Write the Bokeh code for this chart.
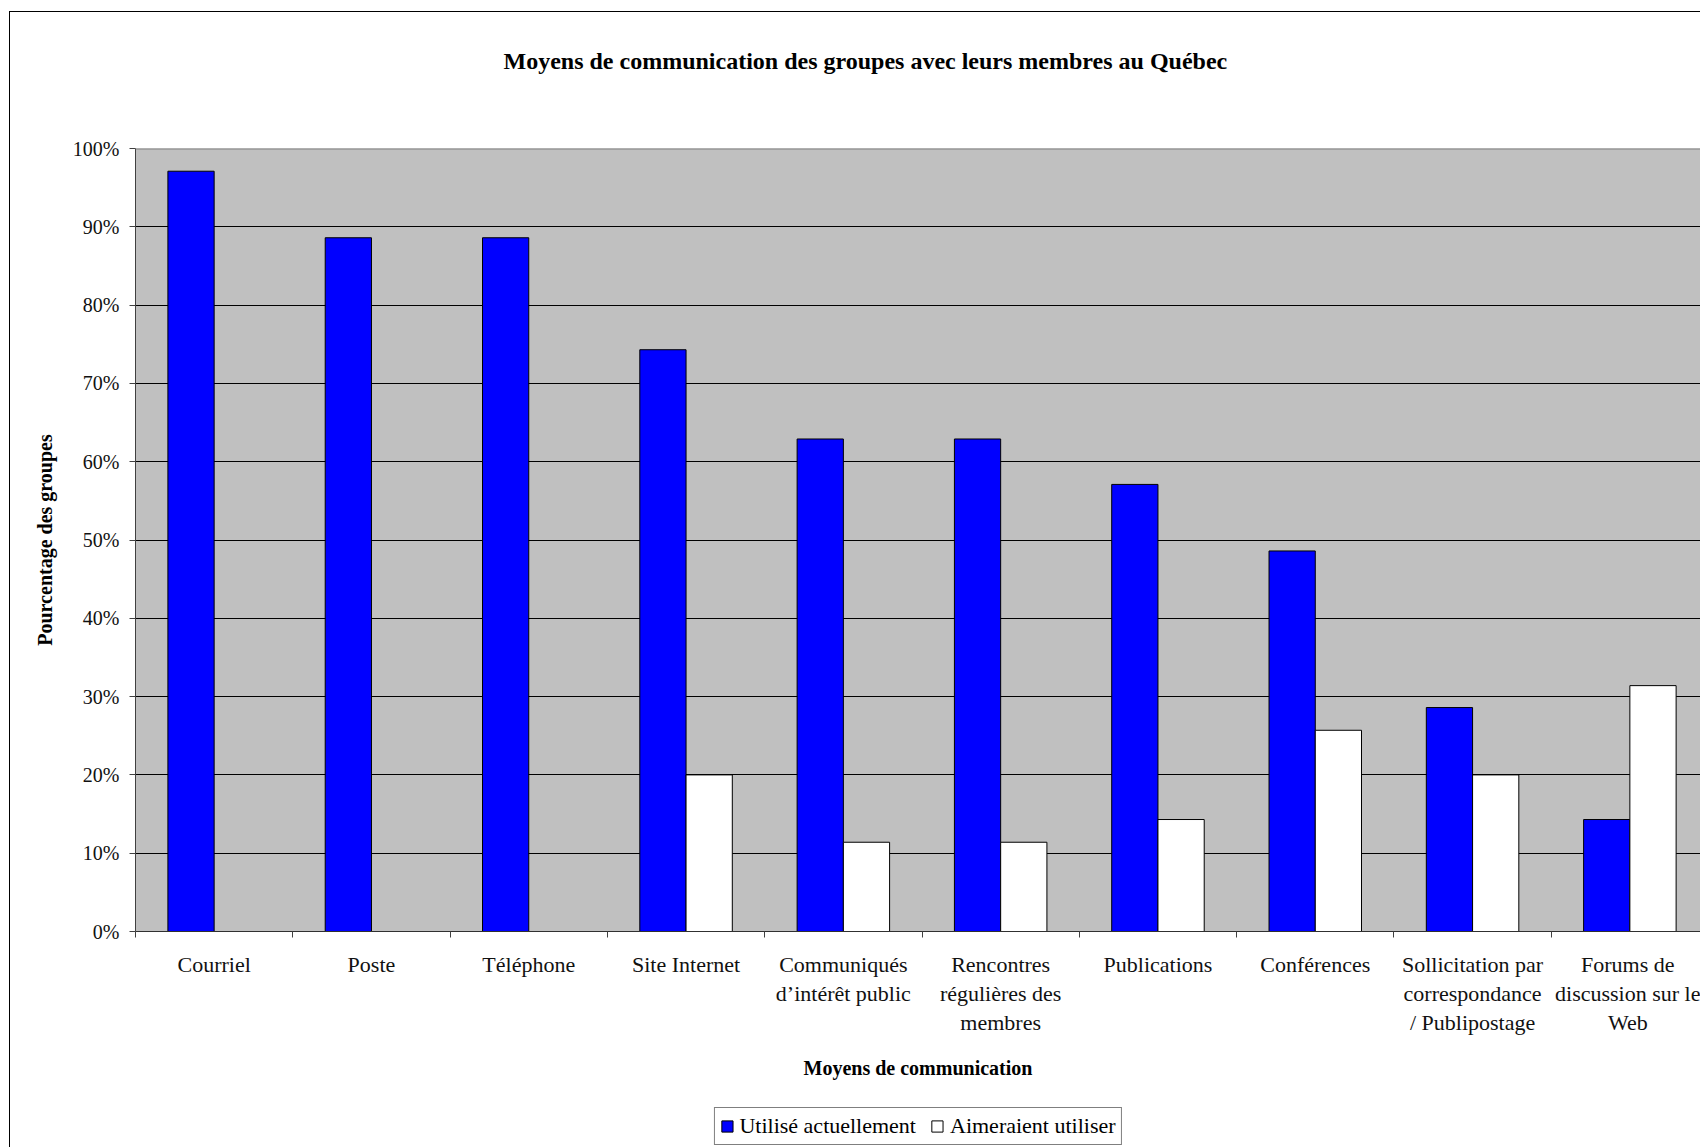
from bokeh.plotting import figure
from bokeh.layouts import column
from bokeh.models import (Range1d, FixedTicker, PrintfTickFormatter, Legend, LegendItem,
                          ColumnDataSource, Title, Span)
from bokeh.embed import file_html
from bokeh.resources import INLINE

categories = ["Courriel", "Poste", "Téléphone", "Site Internet",
              "Communiqués\nd’intérêt public", "Rencontres\nrégulières des\nmembres",
              "Publications", "Conférences",
              "Sollicitation par\ncorrespondance\n/ Publipostage",
              "Forums de\ndiscussion sur le\nWeb"]
utilise = [97.1, 88.6, 88.6, 74.3, 62.9, 62.9, 57.1, 48.6, 28.6, 14.3]
aimeraient = [0.0, 0.0, 0.0, 20.0, 11.4, 11.4, 14.3, 25.7, 20.0, 31.4]
series_names = ["Utilisé actuellement", "Aimeraient utiliser"]
series_colors = ["#0000FF", "white"]
y_ticks = [0, 10, 20, 30, 40, 50, 60, 70, 80, 90, 100]

FONT = "Liberation Serif"
BAR_W = 0.294

n = len(categories)
centers = [i + 0.5 for i in range(n)]
bounds = list(range(n + 1))

src_u = ColumnDataSource(dict(x=[c - BAR_W / 2 for c in centers], top=utilise))
ax = [c + BAR_W / 2 for c, v in zip(centers, aimeraient) if v > 0]
av = [v for v in aimeraient if v > 0]
src_a = ColumnDataSource(dict(x=ax, top=av))

p = figure(frame_width=1565, frame_height=783, output_backend="svg", toolbar_location=None,
           x_range=Range1d(0, 9.949), y_range=Range1d(y_ticks[0], y_ticks[-1]),
           min_border_left=125, min_border_right=0, min_border_top=136,
           min_border_bottom=173)

p.background_fill_color = "#C0C0C0"
p.border_fill_color = "white"
p.outline_line_color = None

# spacer between frame and title
p.add_layout(Title(text=" ", text_font_size="1px", standoff=62), "above")
t = Title(text="Moyens de communication des groupes avec leurs membres au Québec",
          align="left", offset=368, text_font=FONT, text_font_size="24px",
          text_font_style="bold", text_color="black", standoff=20)
p.add_layout(t, "above")

p.vbar(x="x", top="top", width=BAR_W, source=src_u, fill_color=series_colors[0],
       line_color="black", line_width=1)
p.vbar(x="x", top="top", width=BAR_W, source=src_a, fill_color=series_colors[1],
       line_color="black", line_width=1)

p.xgrid.visible = False
p.ygrid.ticker = FixedTicker(ticks=y_ticks)
p.ygrid.grid_line_color = "black"
p.ygrid.grid_line_width = 1

p.add_layout(Span(location=y_ticks[-1], dimension="width", line_color="#808080", line_width=2))

# y axis
p.yaxis.ticker = FixedTicker(ticks=y_ticks)
p.yaxis.formatter = PrintfTickFormatter(format="%d%%")
p.yaxis.major_label_text_font = FONT
p.yaxis.major_label_text_font_size = "20px"
p.yaxis.major_label_text_color = "#111111"
p.yaxis.major_tick_out = 6
p.yaxis.major_tick_in = 0
p.yaxis.minor_tick_out = 0
p.yaxis.minor_tick_in = 0
p.yaxis.major_label_standoff = 10
p.yaxis.axis_line_color = "#404040"
p.yaxis.major_tick_line_color = "#404040"
p.yaxis.axis_label = "Pourcentage des groupes"
p.yaxis.axis_label_text_font = FONT
p.yaxis.axis_label_text_font_size = "20px"
p.yaxis.axis_label_text_font_style = "bold"
p.yaxis.axis_label_text_color = "black"
p.yaxis.axis_label_standoff = 14

# x axis
p.xaxis.ticker = FixedTicker(ticks=centers, minor_ticks=bounds)
p.xaxis.major_label_overrides = {c: lab for c, lab in zip(centers, categories)}
p.xaxis.major_tick_out = 0
p.xaxis.major_tick_in = 0
p.xaxis.minor_tick_out = 6
p.xaxis.minor_tick_in = 0
p.xaxis.minor_tick_line_color = "#404040"
p.xaxis.axis_line_color = "#303030"
p.xaxis.major_label_text_font = FONT
p.xaxis.major_label_text_font_size = "22px"
p.xaxis.major_label_text_color = "#111111"
p.xaxis.major_label_text_line_height = 1.17
p.xaxis.major_label_standoff = 14
p.xaxis.axis_label = "Moyens de communication"
p.xaxis.axis_label_text_font = FONT
p.xaxis.axis_label_text_font_size = "20px"
p.xaxis.axis_label_text_font_style = "bold"
p.xaxis.axis_label_text_color = "black"
p.xaxis.axis_label_standoff = 19

# legend strip below the chart
pl = figure(frame_width=1565, frame_height=43, output_backend="svg", toolbar_location=None,
            x_range=Range1d(0, 1), y_range=Range1d(0, 1),
            x_axis_location=None, y_axis_location=None,
            min_border_left=125, min_border_right=0, min_border_top=0, min_border_bottom=0)
pl.grid.visible = False
pl.outline_line_color = None
pl.background_fill_color = "white"
pl.border_fill_color = "white"
nan = float("nan")
lr = [pl.vbar(x=[nan], top=[nan], width=0.1, fill_color=c, line_color="black", line_width=1)
      for c in series_colors]
legend = Legend(items=[LegendItem(label=s, renderers=[r]) for s, r in zip(series_names, lr)],
                orientation="horizontal", location="center",
                label_text_font=FONT, label_text_font_size="22px",
                label_text_color="black", border_line_color="black",
                border_line_width=1, glyph_width=14, glyph_height=14,
                padding=5, spacing=14, margin=0, label_standoff=6)
pl.add_layout(legend, "center")

layout = column(p, pl, spacing=0)
layout.styles = {"border-left": "1px solid black", "border-top": "1px solid black",
                 "margin-left": "9px", "margin-top": "11px"}

open("out.html", "w").write(file_html(layout, INLINE))
